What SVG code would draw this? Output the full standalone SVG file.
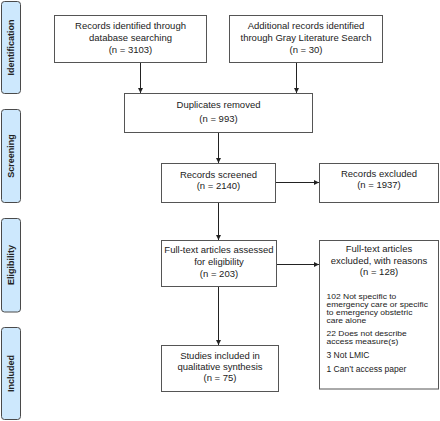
<svg xmlns="http://www.w3.org/2000/svg" width="440" height="421" viewBox="0 0 440 421">
<defs>
<marker id="ah" markerWidth="6" markerHeight="6" refX="5" refY="3" orient="auto" markerUnits="userSpaceOnUse">
<path d="M0,0.5 L5,3 L0,5.5 Z" fill="#222"/>
</marker>
<style>
.box{fill:#fff;stroke:#555;stroke-width:1}
.side{fill:#cde8fd;stroke:#4a4a4a;stroke-width:1}
.t{font-family:"Liberation Sans",Arial,sans-serif;font-size:9.5px;fill:#222;text-anchor:middle}
.l{font-family:"Liberation Sans",Arial,sans-serif;font-size:8.5px;fill:#222}
.s{font-family:"Liberation Sans",Arial,sans-serif;font-size:9px;font-weight:bold;fill:#222;text-anchor:middle}
.c{stroke:#222;stroke-width:1;fill:none;marker-end:url(#ah)}
</style>
</defs>
<rect width="440" height="421" fill="#fff"/>
<g id="phase-identification"><rect class="side" x="1.5" y="1.5" width="19" height="92" rx="3"/><text class="s" transform="translate(14.2,47.5) rotate(-90)">Identification</text></g>
<g id="phase-screening"><rect class="side" x="1.5" y="109.5" width="19" height="93" rx="3"/><text class="s" transform="translate(14.2,156) rotate(-90)">Screening</text></g>
<g id="phase-eligibility"><rect class="side" x="1.5" y="218.5" width="19" height="93.5" rx="3"/><text class="s" transform="translate(14.2,265) rotate(-90)">Eligibility</text></g>
<g id="phase-included"><rect class="side" x="1.5" y="327.5" width="19" height="92" rx="3"/><text class="s" transform="translate(14.2,373.5) rotate(-90)">Included</text></g>

<g id="connectors">
<path class="c" d="M140.5,62.5 V93"/>
<path class="c" d="M296.5,62.5 V93"/>
<path class="c" d="M218.5,132.5 V163"/>
<path class="c" d="M275.5,182.5 H319"/>
<path class="c" d="M218.5,202.5 V240"/>
<path class="c" d="M276.5,264.5 H319"/>
<path class="c" d="M218.5,286.5 V345"/>
</g>

<g id="db-search"><rect class="box" x="54.5" y="15.5" width="152" height="47"/>
<text class="t" x="130.5" y="29.4">Records identified through</text>
<text class="t" x="130.5" y="40.9">database searching</text>
<text class="t" x="130.5" y="52.7">(n = 3103)</text></g>

<g id="gray-lit"><rect class="box" x="229.5" y="15.5" width="153" height="47"/>
<text class="t" x="306" y="29.4">Additional records identified</text>
<text class="t" x="306" y="40.9">through Gray Literature Search</text>
<text class="t" x="306" y="52.7">(n = 30)</text></g>

<g id="duplicates"><rect class="box" x="124.5" y="93.5" width="188" height="39"/>
<text class="t" x="218.5" y="107.7">Duplicates removed</text>
<text class="t" x="218.5" y="121.7">(n = 993)</text></g>

<g id="screened"><rect class="box" x="161.5" y="163.5" width="114" height="39"/>
<text class="t" x="218.5" y="177.7">Records screened</text>
<text class="t" x="218.5" y="188.6">(n = 2140)</text></g>

<g id="excluded"><rect class="box" x="319.5" y="163.5" width="119" height="39"/>
<text class="t" x="379" y="176.7">Records excluded</text>
<text class="t" x="379" y="187.9">(n = 1937)</text></g>

<g id="fulltext"><rect class="box" x="161.5" y="240.5" width="115" height="46"/>
<text class="t" x="219" y="253.4">Full-text articles assessed</text>
<text class="t" x="219" y="265.2">for eligibility</text>
<text class="t" x="219" y="276.7">(n = 203)</text></g>

<g id="fulltext-excluded"><rect class="box" x="319.5" y="240.5" width="119" height="148.5"/>
<text class="t" x="379" y="252.4">Full-text articles</text>
<text class="t" x="379" y="263.7">excluded, with reasons</text>
<text class="t" x="379" y="274.9">(n = 128)</text>
<text class="l" x="326.5" y="299.4" transform="matrix(1 0 0 0.8 0 59.88)">102 Not specific to</text>
<text class="l" x="326.5" y="307.3" transform="matrix(1 0 0 0.8 0 61.46)">emergency care or specific</text>
<text class="l" x="326.5" y="315.2" transform="matrix(1 0 0 0.8 0 63.04)">to emergency obstetric</text>
<text class="l" x="326.5" y="323.1" transform="matrix(1 0 0 0.8 0 64.62)">care alone</text>
<text class="l" x="326.5" y="336.4" transform="matrix(1 0 0 0.8 0 67.28)">22 Does not describe</text>
<text class="l" x="326.5" y="344.3" transform="matrix(1 0 0 0.8 0 68.86)">access measure(s)</text>
<text class="l" x="326.5" y="358.4">3 Not LMIC</text>
<text class="l" x="326.5" y="372.4">1 Can’t access paper</text></g>

<g id="included"><rect class="box" x="161.5" y="345.5" width="117" height="46"/>
<text class="t" x="220" y="359.4">Studies included in</text>
<text class="t" x="220" y="370.3">qualitative synthesis</text>
<text class="t" x="220" y="381.1">(n = 75)</text></g>
</svg>
